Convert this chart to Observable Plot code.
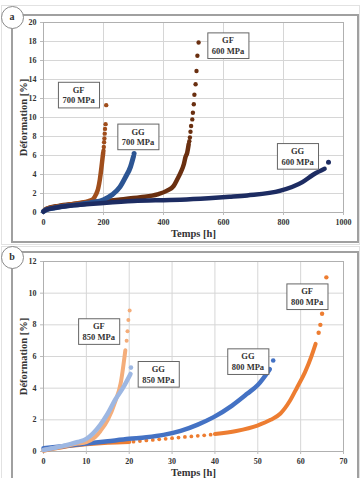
<!DOCTYPE html>
<html><head><meta charset="utf-8">
<script src="https://cdn.jsdelivr.net/npm/d3@7"></script>
<script src="https://cdn.jsdelivr.net/npm/@observablehq/plot@0.6"></script>
<style>
body{margin:0;background:#fff;}
#wrap{position:relative;width:361px;height:478px;overflow:hidden;font-family:"Liberation Serif",serif;}
#wrap svg{position:absolute;left:0;background:transparent !important;}
.box{position:absolute;box-sizing:border-box;}
.circ{position:absolute;box-sizing:border-box;width:23px;height:23px;border:1.5px solid #8a8a8a;border-radius:50%;background:#fff;font:bold 10px "Liberation Serif",serif;color:#333;text-align:center;line-height:19px;z-index:5;}
[aria-label="x-axis label"] text,[aria-label="y-axis label"] text{font-size:10.5px;fill:#333;}
</style></head><body><div id="wrap"></div>
<script>
// ---------- Panel a (x: Temps [h], y: Déformation [%]) ----------
const aXTicks = [0, 200, 400, 600, 800, 1000];
const aYTicks = [0, 2, 4, 6, 8, 10, 12, 14, 16, 18, 20];
const aGF600Line = [[0,0.15],[10,0.4],[50,0.7],[100,0.9],[150,1.05],[200,1.2],[250,1.35],[323,1.6],[380,1.9],[412,2.3],[434,2.8],[446,3.5],[457,4.2],[468,5.1],[473,5.8],[479,6.3],[484,7.2]];
const aGF600Dots = [[486,7.5],[488,7.9],[490,8.5],[492,9.1],[496,9.8],[498,10.5],[501,11.4],[503,12.4],[507,13.5],[510,14.9],[513,16.5],[517,17.9]];
const aGF700Line = [[0,0.15],[10,0.4],[40,0.6],[80,0.8],[120,1.0],[150,1.2],[165,1.4],[175,1.9],[182,2.5],[188,3.5],[193,4.7],[197,5.8],[199,6.3]];
const aGF700Dots = [[200,6.5],[201,6.9],[202,7.4],[203,7.8],[204,8.3],[205,8.8],[207,9.3],[209,11.3]];
const aGG700Line = [[0,0.1],[10,0.3],[40,0.5],[80,0.7],[120,0.85],[160,1.05],[200,1.35],[230,1.9],[255,2.7],[273,3.7],[290,4.8],[300,5.9]];
const aGG700Dots = [[302,6.2]];
const aGG600Line = [[0,0.1],[10,0.3],[50,0.55],[100,0.75],[200,1.0],[300,1.2],[400,1.3],[457,1.35],[550,1.5],[620,1.65],[679,1.8],[790,2.3],[863,3.2],[900,4.0],[937,4.6]];
const aGG600Dots = [[950,5.3]];
const aLabelText = ["GF\n700 MPa", "GG\n700 MPa", "GF\n600 MPa", "GG\n600 MPa"];
const aLabelX = [117, 315, 615, 847];
const aLabelY = [12.4, 8.0, 17.6, 5.95];

// ---------- Panel b ----------
const bXTicks = [0, 10, 20, 30, 40, 50, 60, 70];
const bYTicks = [0, 2, 4, 6, 8, 10, 12];
const bGF800Line1 = [[0,0.05],[5,0.3],[10,0.45],[15,0.55],[20,0.6]];
const bGF800Dots1 = [[21,0.62],[22.5,0.66],[24,0.7],[25.5,0.73],[27,0.77],[28.5,0.8],[30,0.84],[31.5,0.88],[33,0.92],[34.5,0.95],[36,0.99],[37.5,1.02],[39,1.06]];
const bGF800Line2 = [[40,1.1],[45,1.3],[49.9,1.64],[53,2.0],[55.3,2.4],[57.5,3.2],[59.2,4.06],[61,5.0],[62.5,6.0],[63.5,6.8]];
const bGF800Dots2 = [[64.2,7.5],[64.6,8.0],[65.0,8.7],[66.0,11.0]];
const bGG800Line = [[0,0.2],[5,0.35],[10,0.5],[15,0.65],[20,0.8],[24,0.9],[28,1.05],[32,1.3],[36,1.7],[39.7,2.17],[44,2.9],[47.5,3.64],[50,4.2],[52.8,5.2]];
const bGG800Dots = [[53.6,5.75]];
const bGF850Line = [[0,0.1],[3,0.25],[6,0.4],[8,0.5],[10,0.6],[12,0.9],[13.3,1.3],[15,2.0],[16.8,3.2],[18,4.3],[19.1,6.4]];
const bGF850Dots = [[19.4,7.0],[19.6,7.6],[19.8,8.3],[20.1,8.9]];
const bGG850Line = [[0,0.1],[3,0.25],[6,0.45],[8,0.6],[10,0.8],[13.3,1.7],[15,2.4],[16.8,3.3],[18.5,4.0],[20.3,4.9]];
const bGG850Dots = [[20.4,5.3]];
const bLabelText = ["GF\n850 MPa", "GG\n850 MPa", "GG\n800 MPa", "GF\n800 MPa"];
const bLabelX = [12.9, 26.8, 47.7, 61.5];
const bLabelY = [7.6, 4.9, 5.7, 9.8];

const C = {gf700:"#a04e1c", gg700:"#2c5593", gf600:"#6a2f10", gg600:"#1d2c62",
           gf800:"#ed7d31", gg800:"#4472c4", gf850:"#f4ad7a", gg850:"#9db7e2"};

const X = d => d[0], Y = d => d[1];
function series(line, dots, color, sw, r) {
  return [
    Plot.line(line, {x: X, y: Y, stroke: color, strokeWidth: sw, curve: "monotone-x", strokeLinecap: "round"}),
    Plot.dot(dots, {x: X, y: Y, fill: color, r: r})
  ];
}
function labels(text, xs, ys) {
  return Plot.text(text, {x: (d, i) => xs[i], y: (d, i) => ys[i], text: d => d, lineHeight: 1.25, fontSize: 8.5, fill: "#333"});
}
const common = (xDom, yDom, mt, mb) => ({
  width: 361, marginLeft: 43, marginRight: 18, marginTop: mt, marginBottom: mb,
  style: {fontFamily: "Liberation Serif, serif", fontSize: "8px", fontWeight: "bold", color: "#333", background: "transparent"},
  x: {domain: xDom}, y: {domain: yDom}
});
function axes(xT, yT) {
  return [
    Plot.gridX(xT, {stroke: "#d6d6d6", strokeOpacity: 1}),
    Plot.gridY(yT, {stroke: "#d6d6d6", strokeOpacity: 1}),
    Plot.frame({stroke: "#b0b0b0"}),
    Plot.axisX(xT, {tickSize: 3, tickPadding: 4, stroke: "#bbb", tickFormat: d => String(d), label: "Temps [h]", labelAnchor: "center", labelArrow: "none", labelOffset: 24, fill: "#333"}),
    Plot.axisY(yT, {tickSize: 3, tickPadding: 4, stroke: "#bbb", tickFormat: d => String(d), label: "Déformation [%]", labelAnchor: "center", labelArrow: "none", labelOffset: 24, fill: "#333"})
  ];
}

const plotA = Plot.plot({
  ...common([0, 1000], [0, 20], 22, 28), height: 240,
  marks: [
    ...axes(aXTicks, aYTicks),
    ...series(aGF600Line, aGF600Dots, C.gf600, 4.5, 2.2),
    ...series(aGF700Line, aGF700Dots, C.gf700, 4.5, 2.2),
    ...series(aGG700Line, aGG700Dots, C.gg700, 5, 2.5),
    ...series(aGG600Line, aGG600Dots, C.gg600, 4.5, 2.5),
    labels(aLabelText, aLabelX, aLabelY)
  ]
});
const plotB = Plot.plot({
  ...common([0, 70], [0, 12], 21, 27), height: 238,
  marks: [
    ...axes(bXTicks, bYTicks),
    ...series(bGF800Line1, bGF800Dots1, C.gf800, 4, 1.9),
    ...series(bGF800Line2, bGF800Dots2, C.gf800, 4, 2.2),
    ...series(bGG800Line, bGG800Dots, C.gg800, 4.5, 2.3),
    ...series(bGF850Line, bGF850Dots, C.gf850, 4, 2),
    ...series(bGG850Line, bGG850Dots, C.gg850, 4.5, 2.3),
    labels(bLabelText, bLabelX, bLabelY)
  ]
});

const wrap = document.getElementById("wrap");
function addFrame(l, t, w, h) {
  const d = document.createElement("div");
  d.className = "box";
  Object.assign(d.style, {left: l + "px", top: t + "px", width: w + "px", height: h + "px", border: "2px solid #a0a0a0", zIndex: 3});
  wrap.appendChild(d);
}
function addOuter(l, t, w, h) {
  const d = document.createElement("div");
  d.className = "box";
  Object.assign(d.style, {left: l + "px", top: t + "px", width: w + "px", height: h + "px", border: "1px solid #e2e2e2", zIndex: 1});
  wrap.appendChild(d);
}
function addCircle(cx, cy, s) {
  const d = document.createElement("div");
  d.className = "circ";
  d.textContent = s;
  Object.assign(d.style, {left: (cx - 11.5) + "px", top: (cy - 11.5) + "px"});
  wrap.appendChild(d);
}
addOuter(1, 5, 359, 240);
addOuter(1, 246, 359, 240);
plotA.style.top = "0px"; plotA.style.zIndex = 4;
plotB.style.top = "240px"; plotB.style.zIndex = 4;
wrap.appendChild(plotA);
wrap.appendChild(plotB);
addFrame(11, 14, 348, 229);
addFrame(11, 251, 348, 240);
addCircle(12, 17.5, "a");
addCircle(12, 257.5, "b");

function boxLabels(svg) {
  svg.querySelectorAll('g[aria-label="text"]').forEach(g => {
    g.querySelectorAll("text").forEach(t => {
      const bb = t.getBBox();
      const r = document.createElementNS("http://www.w3.org/2000/svg", "rect");
      r.setAttribute("x", bb.x - 4); r.setAttribute("y", bb.y - 2.5);
      r.setAttribute("width", bb.width + 8); r.setAttribute("height", bb.height + 5);
      r.setAttribute("fill", "#fff"); r.setAttribute("stroke", "#666"); r.setAttribute("stroke-width", 1);
      const tr = t.getAttribute("transform"); if (tr) r.setAttribute("transform", tr);
      g.insertBefore(r, t);
    });
  });
}
boxLabels(plotA);
boxLabels(plotB);
</script></body></html>
